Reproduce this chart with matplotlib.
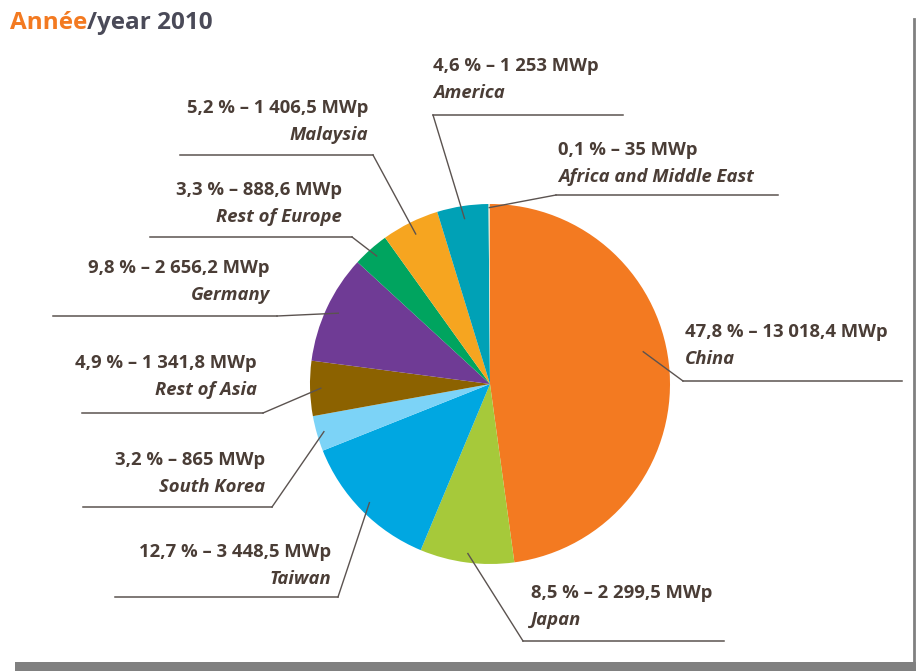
import numpy as np
import matplotlib.pyplot as plt

# data
regions = ['China', 'Japan', 'Taiwan', 'South Korea', 'Rest of Asia',
           'Germany', 'Rest of Europe', 'Malaysia', 'America', 'Africa and Middle East']
mwp = [13018.4, 2299.5, 3448.5, 865, 1341.8, 2656.2, 888.6, 1406.5, 1253, 35]
value_labels = ['47,8 % – 13 018,4 MWp', '8,5 % – 2 299,5 MWp', '12,7 % – 3 448,5 MWp',
                '3,2 % – 865 MWp', '4,9 % – 1 341,8 MWp', '9,8 % – 2 656,2 MWp',
                '3,3 % – 888,6 MWp', '5,2 % – 1 406,5 MWp', '4,6 % – 1 253 MWp',
                '0,1 % – 35 MWp']
colors = ['#F37A21', '#A6C93A', '#00A7E1', '#7CD3F7', '#8C6200',
          '#6F3B95', '#00A45F', '#F6A520', '#00A1B6', '#E8DCC0']

# label layout in pixels: text x, first line y, align, line x0, line x1, line y, radius factor, angle nudge
layout = [
    (685, 332, 'left', 683, 902, 381, 0.87, 8),
    (531, 593, 'left', 523, 724, 641, 0.95, 0),
    (331, 552, 'right', 115, 338, 597, 0.94, 0),
    (265, 460, 'right', 83, 272, 507, 0.96, 0),
    (257, 363, 'right', 82, 263, 413, 0.94, 0),
    (270, 268, 'right', 53, 277, 316, 0.93, 0),
    (342, 190, 'right', 150, 352, 237, 0.95, 0),
    (368, 108, 'right', 180, 373, 155, 0.93, 0),
    (433, 66, 'left', 433, 623, 115, 0.93, 0),
    (558, 150, 'left', 556, 778, 195, 0.98, 0),
]

txt = '#4a3d36'
plt.rcParams['font.family'] = ['Open Sans', 'DejaVu Sans']

fig = plt.figure(figsize=(9.16, 6.71), dpi=100)
ax = fig.add_axes([0, 0, 1, 1])

cx, cy, r = 490, 384, 180
wedges, _ = ax.pie(mwp, colors=colors, startangle=-90, counterclock=True,
                   center=(cx, cy), radius=r, frame=True)
ax.set_xlim(0, 916)
ax.set_ylim(671, 0)
ax.set_aspect('equal')
ax.axis('off')

for w, name, val, lay in zip(wedges, regions, value_labels, layout):
    tx, ty, ha, lx0, lx1, ly, rf, nudge = lay
    ax.text(tx, ty, val, ha=ha, va='center', fontsize=13.3, fontweight='bold', color=txt)
    ax.text(tx, ty + 27, name, ha=ha, va='center', fontsize=13.3, fontweight='bold',
            fontstyle='italic', color=txt)
    ax.plot([lx0, lx1], [ly, ly], color='#5b5350', lw=1.1)
    ang = np.deg2rad((w.theta1 + w.theta2) / 2 - nudge)
    px, py = cx + rf * r * np.cos(ang), cy + rf * r * np.sin(ang)
    sx = lx0 if ha == 'left' else lx1
    ax.plot([sx, px], [ly, py], color='#5b5350', lw=1.0)

# title
t1 = ax.text(10, 23, 'Année', fontsize=17.5, fontweight='bold', color='#F37A21', va='center')
fig.canvas.draw()
x2 = ax.transData.inverted().transform((t1.get_window_extent().x1, 0))[0]
ax.text(x2, 23, '/year 2010', fontsize=17.5, fontweight='bold', color='#4a4a58', va='center')

# frame edges
ax.add_patch(plt.Rectangle((15, 662), 901, 9, color='#808080', lw=0))
ax.plot([914, 914], [19, 662], color='#808080', lw=2)

fig.savefig('out.png', dpi=100)
